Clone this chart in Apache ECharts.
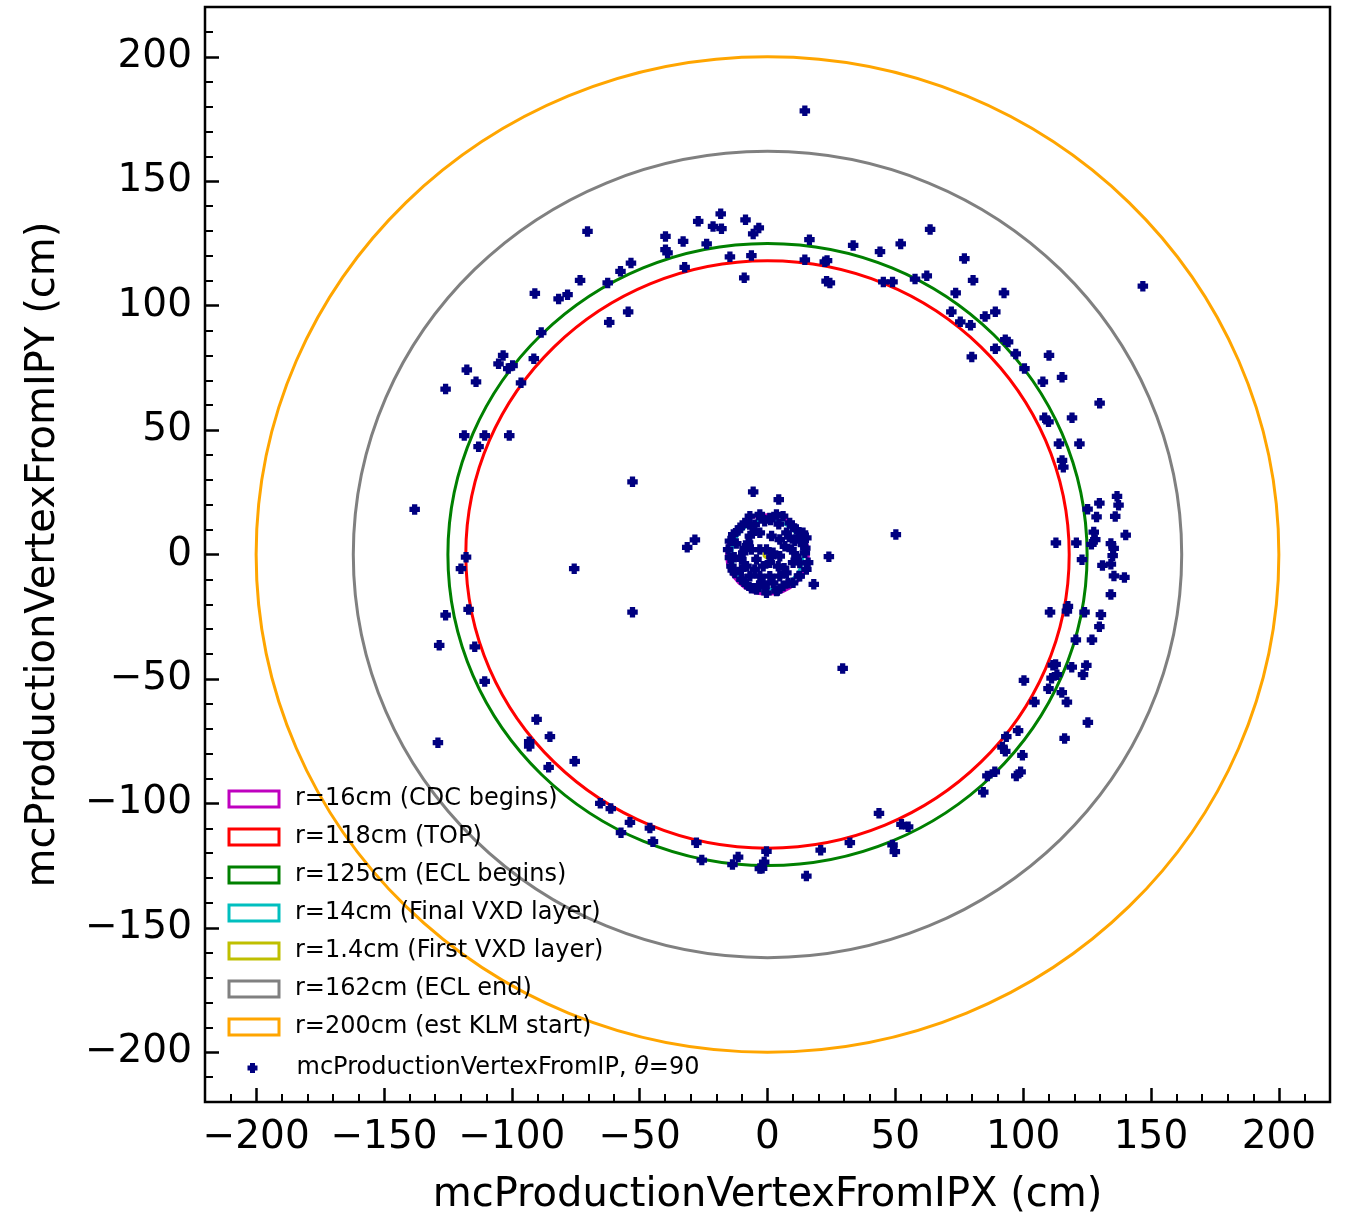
<!DOCTYPE html>
<html>
<head>
<meta charset="utf-8">
<script src="https://cdn.jsdelivr.net/npm/echarts@6/dist/echarts.min.js"></script>
<style>
  html, body { margin: 0; padding: 0; background: #fff; }
  #chart { width: 1345px; height: 1212px; }
</style>
</head>
<body>
<div id="chart"></div>
<script>
// Axis ticks (cm)
const majorTicks = [-200, -150, -100, -50, 0, 50, 100, 150, 200];
const minorTicks = [-210, -190, -180, -170, -160, -140, -130, -120, -110, -90, -80, -70, -60,
  -40, -30, -20, -10, 10, 20, 30, 40, 60, 70, 80, 90, 110, 120, 130, 140, 160, 170, 180, 190, 210];

// Detector boundaries drawn as circles around the IP
const circleNames = ['r=16cm (CDC begins)', 'r=118cm (TOP)', 'r=125cm (ECL begins)',
  'r=14cm (Final VXD layer)', 'r=1.4cm (First VXD layer)', 'r=162cm (ECL end)', 'r=200cm (est KLM start)'];
const circleRadii = [16, 118, 125, 14, 1.4, 162, 200];
const circleColors = ['#bf00bf', '#ff0000', '#008000', '#00bfbf', '#bfbf00', '#808080', '#ffa500'];

// Production vertices close to the IP (cm)
const innerX = [-6.9, -3.0, 0.9, 3.5, 6.1, -8.9, -10.8, -5.0, -1.1, 8.7, 11.3, 13.9, 15.2, -13.4, -14.7,
  -15.4, -14.7, -14.1, -12.8, -10.2, -8.2, -4.3, -0.4, 3.5, 6.1, 10.0, 12.6, 15.2, 15.9, 14.6, 13.9,
  -6.9, -3.0, 1.6, 4.8, 6.8, 9.4, 11.3, 10.0, 4.8, 2.2, -0.4, -3.0, -6.3, -9.5, -10.2, -8.2, -5.0,
  -1.7, 0.9, 4.2, 7.4, 4.8, 0.9, -3.0, -6.9, -10.2, -4.3, -1.7, 2.2, -7.6, 7.4, 10.7,
  -2.6, -7.0, -11.5, -12.2, -13.0, -13.6, -9.9, -6.3, -1.1, 3.9, 8.0, 12.3, 12.6, 14.8, 12.1, 9.6,
  4.4, 1.2,
  -9.0, 1.5, -5.0, 8.5, 6.5, -3.5];
const innerY = [15.4, 16.1, 14.7, 16.1, 15.4, 12.7, 10.7, 12.0, 13.4, 12.7, 10.0, 8.7, 6.7, 8.0, 5.4,
  2.0, -1.3, -4.7, -7.4, -10.0, -12.0, -14.1, -15.4, -14.7, -12.7, -11.4, -8.7, -6.0, -3.3, 0.7, 4.0,
  7.4, 8.7, 7.4, 6.0, 3.3, 2.0, -0.7, -3.3, -0.7, 0.7, 2.0, 2.0, 2.0, 0.7, -2.0, -4.7, -6.0,
  -4.7, -3.3, -4.7, -7.4, -8.7, -8.7, -8.7, -8.7, -6.0, -2.0, -11.4, -11.4, 4.7, 8.7, 5.4,
  14.8, 12.1, 9.6, 4.4, -1.1, -6.3, -9.9, -13.6, -13.0, -14.5, -11.5, -8.6, -3.4, 2.6, 7.0, 11.5,
  12.2, 13.9,
  2.5, -1.0, 9.5, 7.0, -5.5, -12.5];

// Production vertices further out (cm)
const outerX = [-70.4, -27.1, -18.3, -21.3, -18.0, -8.6, -5.6, -3.4, -39.9, -33.0, -23.8, -39.9, -39.1,
  -14.7, -6.3, -32.4, -9.1, 16.4, 14.6, 22.4, 23.3, 23.1, 24.4, -53.4, -57.5, -62.5, -73.3, -81.7,
  -78.2, -91.0, -54.5, -61.9, -88.5, -91.4, -103.4, -105.2, -101.4, -99.7, -117.6, -114.0, -125.9,
  -96.4, -118.6, -110.6, -113.0, -101.0, -52.8, -5.6, 4.4,
  14.6, 33.5, 44.0, 52.1, 63.6, 45.3, 48.9, 57.7, 62.3, 77.0, 80.4, 73.6, 92.5, 71.9, 75.4, 79.4,
  85.1, 89.1, 79.9, 89.1, 93.0, 94.1, 97.1, 110.1, 100.5, 107.7, 115.2, 129.9, 108.4, 109.9, 119.1,
  114.0, 122.0, 115.2, 115.7, 146.8,
  136.7, 137.3, 129.8, 125.2, 136.0, 128.7, 127.6, 140.1, 128.2, 126.7, 134.3, 135.4, 135.0, 120.8,
  112.8, 123.0, 131.0, 134.3, 135.5, 139.6, 134.3, 117.5, 117.1, 110.5, 124.0, 130.4, 129.8, 120.6,
  126.9, 111.6, 112.7, 111.1, 113.2, 119.0, 124.7, 123.4, 100.3, 109.9, 115.1, 117.1, 104.4, 125.3,
  98.0, 93.4, 116.2, 91.9,
  93.0, 99.7, 88.9, 86.0, 99.0, 97.3, 84.4, 43.6, 52.4, 55.0, 48.9, 49.8, 32.2,
  -90.3, -93.2, -93.2, -85.1, -85.6, -75.4, -65.4, -61.3, -53.8, -46.0, -57.3, -44.8, -27.8, -25.7,
  -13.7, -11.5, -0.4, -1.3, -3.0, -2.1, 15.2, 20.8,
  -138.0, -117.9, -119.9, -75.6, -31.4, -28.4, -116.9, -125.9, -52.8, -128.4, -114.5, -110.6, -128.9,
  24.0, 18.1, 29.4, 50.2];
const outerY = [129.8, 133.9, 136.9, 131.8, 130.9, 134.5, 128.8, 131.2, 127.8, 125.8, 124.8, 122.5, 121.2,
  119.6, 120.1, 115.4, 111.2, 126.5, 118.4, 117.6, 118.1, 109.8, 109.1, 117.1, 113.8, 109.1, 110.2, 102.7,
  104.4, 104.9, 97.5, 93.3, 89.2, 78.7, 80.0, 76.6, 74.7, 75.9, 74.2, 69.4, 66.5,
  69.0, 47.8, 47.8, 43.3, 47.8, 29.2, 25.2, 22.1,
  178.3, 124.2, 121.7, 124.8, 130.6, 109.5, 109.5, 110.7, 112.0, 118.9, 110.2, 105.1, 105.1, 97.5, 93.5, 92.1,
  95.6, 97.5, 79.4, 82.7, 86.3, 85.4, 80.6, 80.0, 74.7, 69.4, 71.2, 60.8, 54.9, 53.3, 54.9,
  44.5, 44.5, 37.8, 35.1, 107.8,
  23.4, 19.8, 20.6, 18.2, 15.3, 15.1, 9.0, 7.8, 6.0, 4.1, 4.4, 2.5, -0.5, 4.7,
  4.7, -2.1, -4.4, -3.9, -8.6, -9.2, -16.1, -20.8, -22.8, -23.2, -23.2, -24.2, -29.0, -34.3,
  -34.3, -44.5, -44.2, -49.7, -48.3, -45.3, -44.6, -48.3, -50.6, -53.9, -55.5, -59.3, -59.3, -67.5,
  -70.8, -73.2, -73.9, -77.4,
  -79.1, -80.7, -87.3, -89.0, -87.3, -89.0, -95.5, -104.0, -108.4, -109.4, -116.7, -119.4, -115.8,
  -66.3, -75.2, -77.0, -73.2, -85.5, -83.1, -100.0, -102.1, -107.6, -109.9, -111.8, -115.4, -115.8, -122.8,
  -124.6, -121.6, -119.3, -123.6, -126.2, -126.1, -129.2, -118.8,
  18.1, -1.1, -5.7, -5.7, 2.9, 5.9, -22.1, -24.4, -23.2, -36.5, -37.1, -51.0, -75.6,
  -0.9, -12.0, -45.8, 8.0];

const scatterName = 'mcProductionVertexFromIP, \u03b8=90';
const FONT = 'DejaVu Sans';
const plusSymbol = 'path://M2.5,0H7.5V2.5H10V7.5H7.5V10H2.5V7.5H0V2.5H2.5Z';

const vertexData = innerX.map((x, i) => [x, innerY[i]])
  .concat(outerX.map((x, i) => [x, outerY[i]]));

const minus = v => String(v).replace('-', '\u2212');

function majorAxis(extra, labelExtra) {
  return Object.assign({
    type: 'value', min: -220, max: 220, gridIndex: 0,
    axisLine: { show: false, onZero: false },
    splitLine: { show: false },
    axisTick: { show: true, inside: true, length: 14, lineStyle: { color: '#000', width: 2.5 }, customValues: majorTicks },
    axisLabel: Object.assign({ show: true, customValues: majorTicks, formatter: minus, color: '#000', fontSize: 39, fontFamily: FONT }, labelExtra),
    nameLocation: 'middle',
    nameTextStyle: { color: '#000', fontSize: 40, fontFamily: FONT },
    nameMoveOverlap: false
  }, extra);
}
function minorAxis(extra) {
  return Object.assign({
    type: 'value', min: -220, max: 220, gridIndex: 0,
    axisLine: { show: false, onZero: false },
    splitLine: { show: false },
    axisTick: { show: true, inside: true, length: 8, lineStyle: { color: '#000', width: 2 }, customValues: minorTicks },
    axisLabel: { show: false }
  }, extra);
}

const circleSeries = circleRadii.map((r, i) => ({
  type: 'custom',
  name: circleNames[i],
  xAxisIndex: 0, yAxisIndex: 0,
  coordinateSystem: 'cartesian2d',
  data: [[0, 0, r]],
  encode: { x: 0, y: 1 },
  silent: true,
  z: 2,
  itemStyle: { color: circleColors[i] },
  renderItem: (params, api) => {
    const c = api.coord([api.value(0), api.value(1)]);
    const s = api.size([api.value(2), api.value(2)]);
    return {
      type: 'ellipse',
      shape: { cx: c[0], cy: c[1], rx: s[0], ry: s[1] },
      style: { fill: null, stroke: circleColors[i], lineWidth: 3 }
    };
  }
}));

const option = {
  animation: false,
  backgroundColor: '#fff',
  grid: {
    left: 205, top: 7, right: 15, bottom: 110,
    show: true, borderColor: '#000', borderWidth: 2.5, backgroundColor: '#fff',
    containLabel: false, outerBoundsMode: 'none'
  },
  xAxis: [
    majorAxis({ position: 'bottom', name: 'mcProductionVertexFromIPX (cm)', nameGap: 74 }, { margin: 16 }),
    minorAxis({ position: 'bottom' })
  ],
  yAxis: [
    majorAxis({ position: 'left', name: 'mcProductionVertexFromIPY (cm)', nameGap: 141 }, { margin: 13, padding: [10, 0, 0, 0] }),
    minorAxis({ position: 'left' })
  ],
  legend: [
    {
      orient: 'vertical', left: 227.5, top: 787, padding: 0,
      itemWidth: 50, itemHeight: 16, itemGap: 14,
      textStyle: { color: '#000', fontSize: 24, fontFamily: FONT, lineHeight: 24, padding: [0, 0, 0, 11] },
      data: circleNames.map((n, i) => ({
        name: n, icon: 'rect',
        itemStyle: { color: '#fff', borderColor: circleColors[i], borderWidth: 3 }
      })),
      selectedMode: false
    },
    {
      orient: 'vertical', left: 247.5, top: 1056, padding: 0,
      itemWidth: 10, itemHeight: 10,
      textStyle: {
        color: '#000', fontSize: 24, fontFamily: FONT, lineHeight: 24,
        rich: {
          s: { width: 34, fontSize: 24, fontFamily: FONT },
          n: { color: '#000', fontSize: 24, fontFamily: FONT },
          t: { color: '#000', fontSize: 24, fontFamily: FONT, fontStyle: 'italic' }
        }
      },
      formatter: () => '{s| }{n|mcProductionVertexFromIP, }{t|\u03b8}{n|=90}',
      data: [{ name: scatterName, icon: plusSymbol, itemStyle: { color: '#000080' } }],
      selectedMode: false
    }
  ],
  series: circleSeries.concat([{
    type: 'scatter',
    name: scatterName,
    xAxisIndex: 0, yAxisIndex: 0,
    data: vertexData,
    symbol: plusSymbol,
    symbolSize: 10.5,
    z: 3,
    itemStyle: { color: '#000080', opacity: 1 },
    emphasis: { disabled: true }
  }])
};

const chart = echarts.init(document.getElementById('chart'), null, { renderer: 'canvas' });
chart.setOption(option);
</script>
</body>
</html>
